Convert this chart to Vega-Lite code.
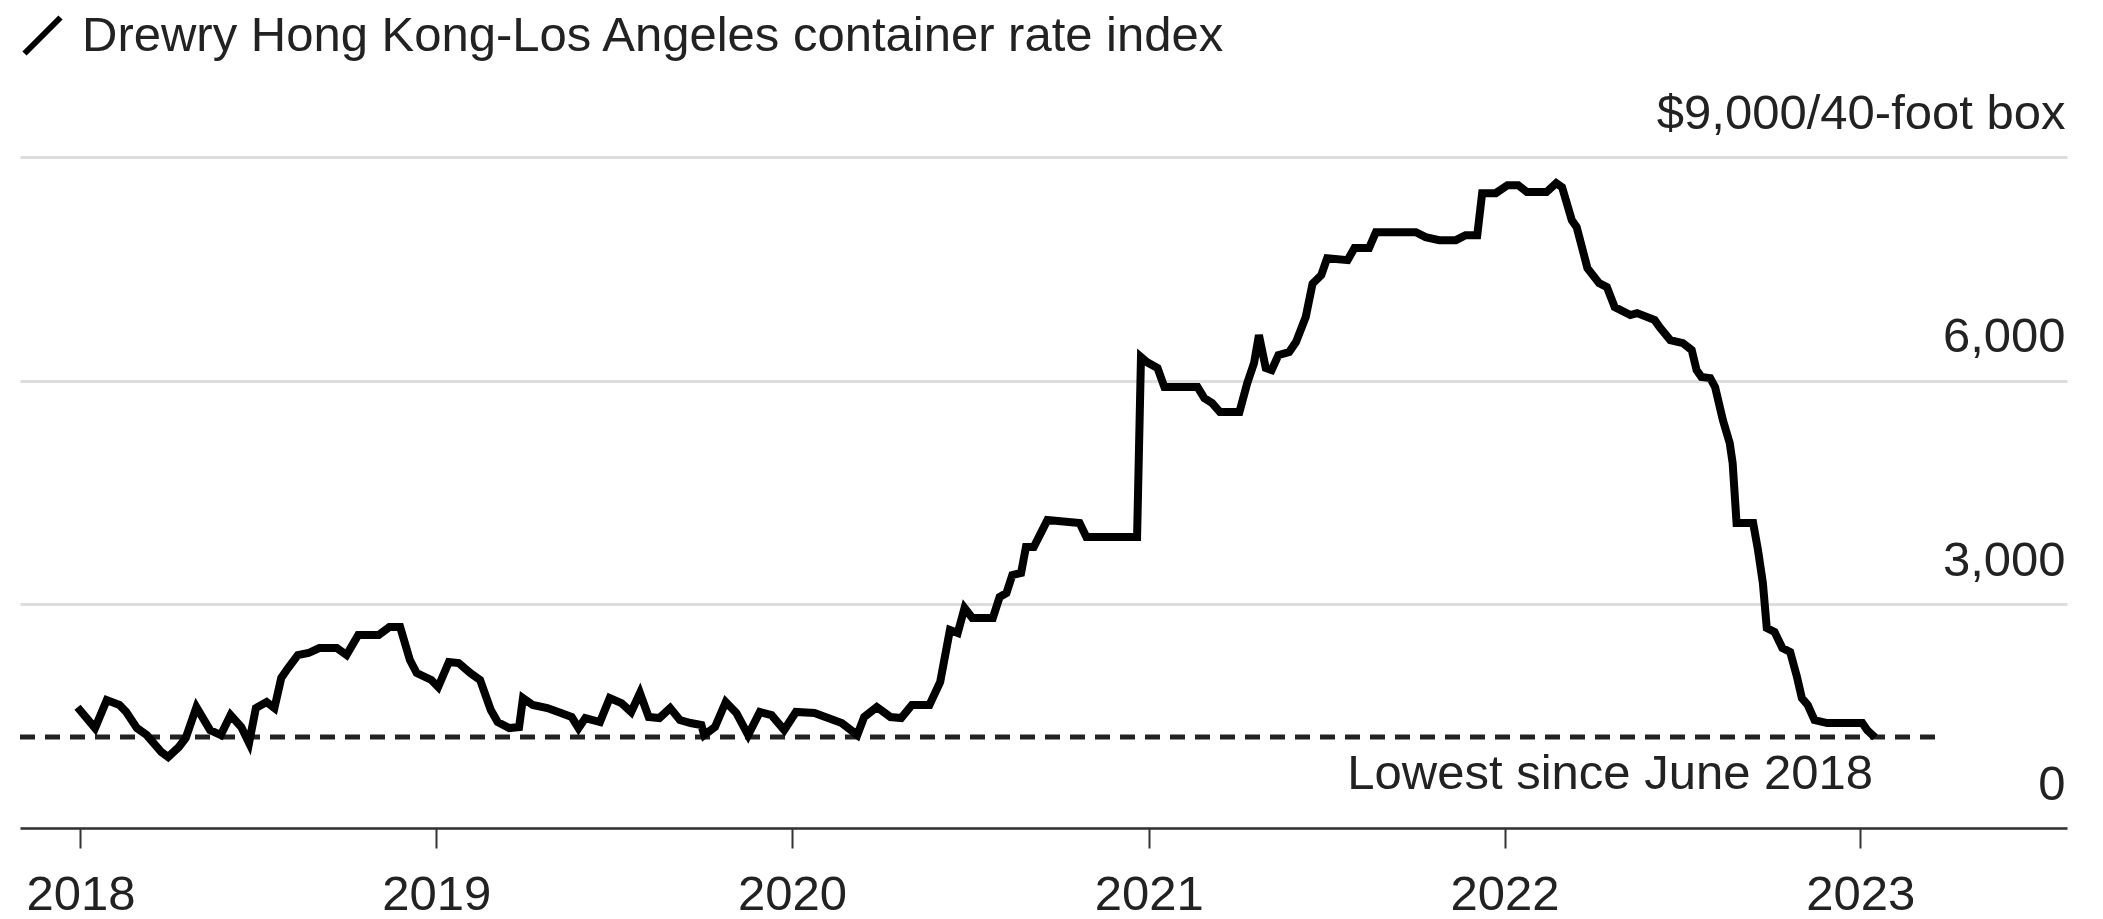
{
  "$schema": "https://vega.github.io/schema/vega-lite/v6.json",
  "width": 2047,
  "height": 671,
  "autosize": "none",
  "padding": {"left": 20, "top": 157, "right": 36, "bottom": 91},
  "background": "#ffffff",
  "config": {
    "view": {"stroke": null},
    "font": "Liberation Sans",
    "axis": {"labelFont": "Liberation Sans", "labelFontSize": 49, "labelColor": "#222222", "labelLimit": 0}
  },
  "datasets": {
    "rate": [
      {"date": "2017-12-29", "value": 1620},
      {"date": "2018-01-16", "value": 1340},
      {"date": "2018-01-28", "value": 1716},
      {"date": "2018-02-10", "value": 1650},
      {"date": "2018-02-17", "value": 1556},
      {"date": "2018-02-28", "value": 1340},
      {"date": "2018-03-10", "value": 1247},
      {"date": "2018-03-25", "value": 1019},
      {"date": "2018-04-01", "value": 952},
      {"date": "2018-04-12", "value": 1086},
      {"date": "2018-04-19", "value": 1207},
      {"date": "2018-04-30", "value": 1620},
      {"date": "2018-05-14", "value": 1314},
      {"date": "2018-05-25", "value": 1247},
      {"date": "2018-06-04", "value": 1515},
      {"date": "2018-06-15", "value": 1354},
      {"date": "2018-06-23", "value": 1140},
      {"date": "2018-06-30", "value": 1609},
      {"date": "2018-07-11", "value": 1690},
      {"date": "2018-07-19", "value": 1609},
      {"date": "2018-07-26", "value": 2012},
      {"date": "2018-08-02", "value": 2146},
      {"date": "2018-08-12", "value": 2320},
      {"date": "2018-08-23", "value": 2347},
      {"date": "2018-09-03", "value": 2414},
      {"date": "2018-09-21", "value": 2414},
      {"date": "2018-10-01", "value": 2320},
      {"date": "2018-10-13", "value": 2588},
      {"date": "2018-11-03", "value": 2588},
      {"date": "2018-11-14", "value": 2695},
      {"date": "2018-11-25", "value": 2695},
      {"date": "2018-12-05", "value": 2253},
      {"date": "2018-12-12", "value": 2079},
      {"date": "2018-12-27", "value": 1985},
      {"date": "2019-01-03", "value": 1891},
      {"date": "2019-01-14", "value": 2226},
      {"date": "2019-01-24", "value": 2213},
      {"date": "2019-02-05", "value": 2079},
      {"date": "2019-02-15", "value": 1985},
      {"date": "2019-02-26", "value": 1582},
      {"date": "2019-03-05", "value": 1421},
      {"date": "2019-03-17", "value": 1340},
      {"date": "2019-03-27", "value": 1354},
      {"date": "2019-03-31", "value": 1743},
      {"date": "2019-04-10", "value": 1650},
      {"date": "2019-04-25", "value": 1609},
      {"date": "2019-05-09", "value": 1542},
      {"date": "2019-05-20", "value": 1488},
      {"date": "2019-05-27", "value": 1340},
      {"date": "2019-06-03", "value": 1475},
      {"date": "2019-06-18", "value": 1421},
      {"date": "2019-06-28", "value": 1743},
      {"date": "2019-07-10", "value": 1676},
      {"date": "2019-07-20", "value": 1556},
      {"date": "2019-07-29", "value": 1810},
      {"date": "2019-08-07", "value": 1488},
      {"date": "2019-08-18", "value": 1475},
      {"date": "2019-08-29", "value": 1609},
      {"date": "2019-09-08", "value": 1448},
      {"date": "2019-09-19", "value": 1408},
      {"date": "2019-09-30", "value": 1381},
      {"date": "2019-10-03", "value": 1247},
      {"date": "2019-10-14", "value": 1354},
      {"date": "2019-10-25", "value": 1690},
      {"date": "2019-11-05", "value": 1542},
      {"date": "2019-11-17", "value": 1247},
      {"date": "2019-11-29", "value": 1556},
      {"date": "2019-12-11", "value": 1515},
      {"date": "2019-12-24", "value": 1314},
      {"date": "2020-01-05", "value": 1556},
      {"date": "2020-01-24", "value": 1542},
      {"date": "2020-02-07", "value": 1475},
      {"date": "2020-02-21", "value": 1408},
      {"date": "2020-03-08", "value": 1247},
      {"date": "2020-03-15", "value": 1488},
      {"date": "2020-03-28", "value": 1622},
      {"date": "2020-04-11", "value": 1488},
      {"date": "2020-04-22", "value": 1475},
      {"date": "2020-05-03", "value": 1650},
      {"date": "2020-05-21", "value": 1650},
      {"date": "2020-06-01", "value": 1958},
      {"date": "2020-06-11", "value": 2655},
      {"date": "2020-06-19", "value": 2615},
      {"date": "2020-06-26", "value": 2950},
      {"date": "2020-07-04", "value": 2816},
      {"date": "2020-07-25", "value": 2816},
      {"date": "2020-08-01", "value": 3098},
      {"date": "2020-08-08", "value": 3151},
      {"date": "2020-08-14", "value": 3393},
      {"date": "2020-08-23", "value": 3420},
      {"date": "2020-08-28", "value": 3768},
      {"date": "2020-09-05", "value": 3768},
      {"date": "2020-09-19", "value": 4130},
      {"date": "2020-10-22", "value": 4090},
      {"date": "2020-10-29", "value": 3902},
      {"date": "2020-12-20", "value": 3902},
      {"date": "2020-12-24", "value": 6316},
      {"date": "2020-12-30", "value": 6249},
      {"date": "2021-01-10", "value": 6169},
      {"date": "2021-01-17", "value": 5914},
      {"date": "2021-02-20", "value": 5914},
      {"date": "2021-02-27", "value": 5766},
      {"date": "2021-03-07", "value": 5699},
      {"date": "2021-03-15", "value": 5579},
      {"date": "2021-04-04", "value": 5579},
      {"date": "2021-04-12", "value": 5967},
      {"date": "2021-04-19", "value": 6236},
      {"date": "2021-04-24", "value": 6611},
      {"date": "2021-05-01", "value": 6169},
      {"date": "2021-05-07", "value": 6142},
      {"date": "2021-05-14", "value": 6343},
      {"date": "2021-05-25", "value": 6383},
      {"date": "2021-06-01", "value": 6517},
      {"date": "2021-06-11", "value": 6853},
      {"date": "2021-06-18", "value": 7300},
      {"date": "2021-06-27", "value": 7416},
      {"date": "2021-07-03", "value": 7643},
      {"date": "2021-07-24", "value": 7617},
      {"date": "2021-07-31", "value": 7778},
      {"date": "2021-08-15", "value": 7778},
      {"date": "2021-08-22", "value": 7992},
      {"date": "2021-10-02", "value": 7992},
      {"date": "2021-10-12", "value": 7925},
      {"date": "2021-10-26", "value": 7885},
      {"date": "2021-11-12", "value": 7885},
      {"date": "2021-11-22", "value": 7952},
      {"date": "2021-12-04", "value": 7952},
      {"date": "2021-12-09", "value": 8515},
      {"date": "2021-12-23", "value": 8515},
      {"date": "2022-01-04", "value": 8622},
      {"date": "2022-01-15", "value": 8622},
      {"date": "2022-01-24", "value": 8529},
      {"date": "2022-02-13", "value": 8529},
      {"date": "2022-02-23", "value": 8650},
      {"date": "2022-03-01", "value": 8596},
      {"date": "2022-03-11", "value": 8153},
      {"date": "2022-03-16", "value": 8059},
      {"date": "2022-03-27", "value": 7510},
      {"date": "2022-04-08", "value": 7308},
      {"date": "2022-04-16", "value": 7255},
      {"date": "2022-04-24", "value": 6987},
      {"date": "2022-05-10", "value": 6880},
      {"date": "2022-05-17", "value": 6906},
      {"date": "2022-06-04", "value": 6812},
      {"date": "2022-06-09", "value": 6718},
      {"date": "2022-06-20", "value": 6544},
      {"date": "2022-07-03", "value": 6504},
      {"date": "2022-07-12", "value": 6410},
      {"date": "2022-07-17", "value": 6142},
      {"date": "2022-07-22", "value": 6048},
      {"date": "2022-07-31", "value": 6034},
      {"date": "2022-08-05", "value": 5914},
      {"date": "2022-08-13", "value": 5471},
      {"date": "2022-08-20", "value": 5163},
      {"date": "2022-08-23", "value": 4895},
      {"date": "2022-08-27", "value": 4090},
      {"date": "2022-09-13", "value": 4090},
      {"date": "2022-09-18", "value": 3728},
      {"date": "2022-09-23", "value": 3285},
      {"date": "2022-09-27", "value": 2682},
      {"date": "2022-10-05", "value": 2628},
      {"date": "2022-10-13", "value": 2414},
      {"date": "2022-10-21", "value": 2360},
      {"date": "2022-10-28", "value": 2025},
      {"date": "2022-11-02", "value": 1743},
      {"date": "2022-11-08", "value": 1650},
      {"date": "2022-11-15", "value": 1448},
      {"date": "2022-11-28", "value": 1408},
      {"date": "2023-01-03", "value": 1408},
      {"date": "2023-01-08", "value": 1314},
      {"date": "2023-01-16", "value": 1215}
    ],
    "ref": [
      {"start": "2017-10-31", "end": "2023-03-21", "value": 1220}
    ],
    "note": [
      {"date": "2023-01-14", "value": 724, "label": "Lowest since June 2018"}
    ]
  },
  "layer": [
    {
      "data": {"name": "ref"},
      "mark": {"type": "rule", "strokeDash": [15, 10], "strokeWidth": 5, "color": "#222222"},
      "encoding": {
        "x": {"field": "start", "type": "temporal"},
        "x2": {"field": "end"},
        "y": {"field": "value", "type": "quantitative"}
      }
    },
    {
      "data": {"name": "rate"},
      "mark": {"type": "line", "strokeWidth": 8, "strokeJoin": "miter", "interpolate": "linear"},
      "encoding": {
        "x": {
          "field": "date",
          "type": "temporal",
          "scale": {
            "type": "utc",
            "domain": [
              {"year": 2017, "month": 10, "date": 31, "utc": true},
              {"year": 2023, "month": 8, "date": 1, "utc": true}
            ]
          },
          "axis": {
            "title": null,
            "zindex": 1,
            "values": [
              {"year": 2018, "month": 1, "date": 1, "utc": true},
              {"year": 2019, "month": 1, "date": 1, "utc": true},
              {"year": 2020, "month": 1, "date": 1, "utc": true},
              {"year": 2021, "month": 1, "date": 1, "utc": true},
              {"year": 2022, "month": 1, "date": 1, "utc": true},
              {"year": 2023, "month": 1, "date": 1, "utc": true}
            ],
            "labelExpr": "utcFormat(datum.value, '%Y')",
            "domainColor": "#333333",
            "domainWidth": 2.5,
            "tickColor": "#333333",
            "tickWidth": 2,
            "tickSize": 20,
            "labelPadding": 22,
            "labelFlush": false,
            "grid": false
          }
        },
        "y": {
          "field": "value",
          "type": "quantitative",
          "scale": {"domain": [0, 9000], "nice": false, "zero": true},
          "axis": {
            "title": null,
            "orient": "right",
            "values": [0, 3000, 6000, 9000],
            "labelExpr": "datum.value == 9000 ? '$9,000/40-foot box' : format(datum.value, ',')",
            "domain": false,
            "ticks": false,
            "tickSize": 0,
            "grid": true,
            "gridColor": "#dddddd",
            "gridWidth": 3,
            "labelAlign": "right",
            "labelBaseline": "alphabetic",
            "labelPadding": -2,
            "labelOffset": -29,
            "labelFlush": false,
            "labelLimit": 0
          }
        },
        "color": {
          "datum": "Drewry Hong Kong-Los Angeles container rate index",
          "type": "nominal",
          "scale": {"range": ["#000000"]},
          "legend": {
            "title": null,
            "orient": "none",
            "legendX": -2,
            "legendY": -146,
            "padding": 0,
            "symbolType": "M-1,1L1,-1",
            "symbolSize": 1296,
            "symbolStrokeWidth": 6,
            "labelFontSize": 49,
            "labelFont": "Liberation Sans",
            "labelColor": "#222222",
            "labelOffset": 15,
            "labelLimit": 0
          }
        }
      }
    },
    {
      "data": {"name": "note"},
      "mark": {"type": "text", "align": "right", "baseline": "middle", "fontSize": 49, "font": "Liberation Sans", "color": "#222222"},
      "encoding": {
        "x": {"field": "date", "type": "temporal"},
        "y": {"field": "value", "type": "quantitative"},
        "text": {"field": "label"}
      }
    }
  ]
}
